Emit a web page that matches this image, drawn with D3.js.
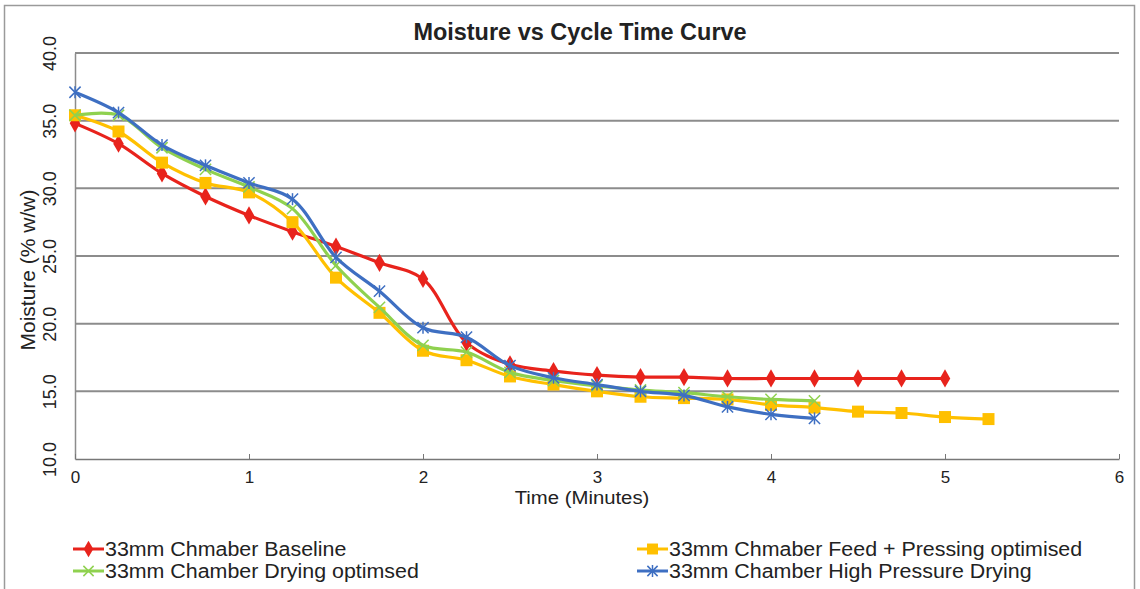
<!DOCTYPE html>
<html>
<head>
<meta charset="utf-8">
<script src="https://cdn.jsdelivr.net/npm/d3@7"></script>
<style>
  body { margin: 0; background: #fff; }
  text { font-family: "Liberation Sans", Arial, sans-serif; fill: #222; }
</style>
</head>
<body>
<div id="chart"></div>
<script>
// time points (minutes), every 0.25
var baselineTime = d3.range(0, 21).map(function(i){ return i * 0.25 }) // 0..5
var baseline = [34.8, 33.3, 31.1, 29.4, 28.0, 26.8, 25.7, 24.5, 23.3, 18.6, 17.0, 16.5,
                16.2, 16.05, 16.05, 15.95, 15.95, 15.95, 15.95, 15.95, 15.95]

var feedTime = d3.range(0, 22).map(function(i){ return i * 0.25 }) // 0..5.25
var feed = [35.4, 34.2, 31.9, 30.4, 29.7, 27.5, 23.4, 20.8, 18.0, 17.3, 16.1, 15.5,
            15.0, 14.6, 14.5, 14.4, 14.0, 13.8, 13.5, 13.4, 13.1, 12.95]

var dryingTime = d3.range(0, 18).map(function(i){ return i * 0.25 }) // 0..4.25
var drying = [35.4, 35.4, 33.0, 31.4, 30.1, 28.5, 24.3, 21.2, 18.4, 17.9, 16.4, 15.8,
              15.4, 15.1, 14.9, 14.6, 14.4, 14.3]

var pressureTime = d3.range(0, 18).map(function(i){ return i * 0.25 })
var pressure = [37.1, 35.6, 33.2, 31.7, 30.4, 29.2, 24.9, 22.4, 19.7, 19.0, 16.9, 16.0,
                15.5, 15.0, 14.7, 13.85, 13.3, 13.0]

var xTicks = [0, 1, 2, 3, 4, 5, 6]
var yTicks = [10, 15, 20, 25, 30, 35, 40]

var series = [
  {name: '33mm Chmaber Baseline', t: baselineTime, v: baseline, color: '#e8231c', marker: 'diamond'},
  {name: '33mm Chmaber Feed + Pressing optimised', t: feedTime, v: feed, color: '#ffc000', marker: 'square'},
  {name: '33mm Chamber Drying optimsed', t: dryingTime, v: drying, color: '#8fd14f', marker: 'x'},
  {name: '33mm Chamber High Pressure Drying', t: pressureTime, v: pressure, color: '#3e6fc2', marker: 'star'}
]

var chart_width = 1140
var chart_height = 589
var plotLeft = 75, plotRight = 1119, plotTop = 53, plotBottom = 459

var svg = d3.select('#chart')
    .append('svg')
    .attr('width', chart_width)
    .attr('height', chart_height)

// outer frame
svg.append('rect')
    .attr('x', 4.5).attr('y', 5.5)
    .attr('width', 1130).attr('height', 600)
    .attr('fill', 'none')
    .attr('stroke', '#9a9a9a')
    .attr('stroke-width', 1.5)

var x = d3.scaleLinear().domain([0, 6]).range([plotLeft, plotRight])
var y = d3.scaleLinear().domain([10, 40]).range([plotBottom, plotTop])

// gridlines
svg.append('g')
    .selectAll('line')
    .data(yTicks.filter(function(d){ return d > 10 }))
    .enter()
    .append('line')
    .attr('x1', plotLeft).attr('x2', plotRight)
    .attr('y1', function(d){ return y(d) })
    .attr('y2', function(d){ return y(d) })
    .attr('stroke', '#8c8c8c')
    .attr('stroke-width', 2)

// y axis
var yAxis = svg.append('g')
    .attr('transform', 'translate(' + plotLeft + ',0)')
    .call(d3.axisLeft(y).tickValues(yTicks).tickSize(0).tickFormat(d3.format('.1f')))
yAxis.select('.domain').attr('stroke', '#8c8c8c').attr('stroke-width', 1.5)
yAxis.selectAll('text')
    .attr('font-size', 18)
    .attr('fill', '#333')
    .attr('x', 0).attr('dy', 0)
    .attr('text-anchor', 'middle')
    .attr('transform', 'translate(-19,0) rotate(-90)')

// x axis
var xAxis = svg.append('g')
    .attr('transform', 'translate(0,' + plotBottom + ')')
    .call(d3.axisBottom(x).tickValues(xTicks).tickSizeInner(-5).tickSizeOuter(0).tickFormat(d3.format('d')))
xAxis.select('.domain').attr('stroke', '#777').attr('stroke-width', 1.5)
xAxis.selectAll('line').attr('stroke', '#777')
xAxis.selectAll('text')
    .attr('font-size', 17)
    .attr('fill', '#333')
    .attr('y', 12)

// titles
svg.append('text')
    .attr('transform', 'translate(580,40) scale(1.02,1)')
    .attr('text-anchor', 'middle')
    .attr('font-size', 23)
    .attr('font-weight', 'bold')
    .text('Moisture vs Cycle Time Curve')

svg.append('text')
    .attr('transform', 'translate(582,504) scale(1.07,1)')
    .attr('text-anchor', 'middle')
    .attr('font-size', 19)
    .text('Time (Minutes)')

svg.append('text')
    .attr('transform', 'translate(35,270) rotate(-90) scale(1.05,1)')
    .attr('text-anchor', 'middle')
    .attr('font-size', 20)
    .text('Moisture (% w/w)')

// markers
function drawMarker(g, type, color, size) {
  if (type === 'diamond') {
    g.append('path').attr('d', d3.symbol(d3.symbolDiamond, size * 8)())
      .attr('fill', color)
  } else if (type === 'square') {
    g.append('path').attr('d', d3.symbol(d3.symbolSquare, size * 12)())
      .attr('fill', color)
  } else if (type === 'x') {
    g.append('path').attr('d', d3.symbol(d3.symbolX, size * 7)())
      .attr('fill', 'none').attr('stroke', color).attr('stroke-width', 1.5)
  } else {
    g.append('path').attr('d', d3.symbol(d3.symbolX, size * 7)())
      .attr('fill', 'none').attr('stroke', color).attr('stroke-width', 1.5)
    g.append('line').attr('x1', 0).attr('x2', 0).attr('y1', -6).attr('y2', 6)
      .attr('stroke', color).attr('stroke-width', 1.5)
  }
}

var line = d3.line()
    .curve(d3.curveCatmullRom.alpha(0.5))

// draw order: baseline, feed, drying, pressure
series.forEach(function(s){
  var pts = s.t.map(function(t, i){ return [x(t), y(s.v[i])] })
  svg.append('path')
      .attr('d', line(pts))
      .attr('fill', 'none')
      .attr('stroke', s.color)
      .attr('stroke-width', 3.2)
  svg.append('g').selectAll('g')
      .data(pts)
      .enter()
      .append('g')
      .attr('transform', function(d){ return 'translate(' + d[0] + ',' + d[1] + ')' })
      .each(function(){ drawMarker(d3.select(this), s.marker, s.color, 12) })
})

// legend
var legendPos = [[73, 549], [637, 549], [73, 571], [637, 571]]
series.forEach(function(s, i){
  var p = legendPos[i]
  var g = svg.append('g').attr('transform', 'translate(' + p[0] + ',' + p[1] + ')')
  g.append('line').attr('x1', 0).attr('x2', 31).attr('y1', 0).attr('y2', 0)
    .attr('stroke', s.color).attr('stroke-width', 3)
  var m = g.append('g').attr('transform', 'translate(15.5,0)')
  drawMarker(m, s.marker, s.color, 10)
  g.append('text')
    .attr('transform', 'translate(32,7) scale(1.07,1)')
    .attr('font-size', 20)
    .text(s.name)
})
</script>
</body>
</html>
